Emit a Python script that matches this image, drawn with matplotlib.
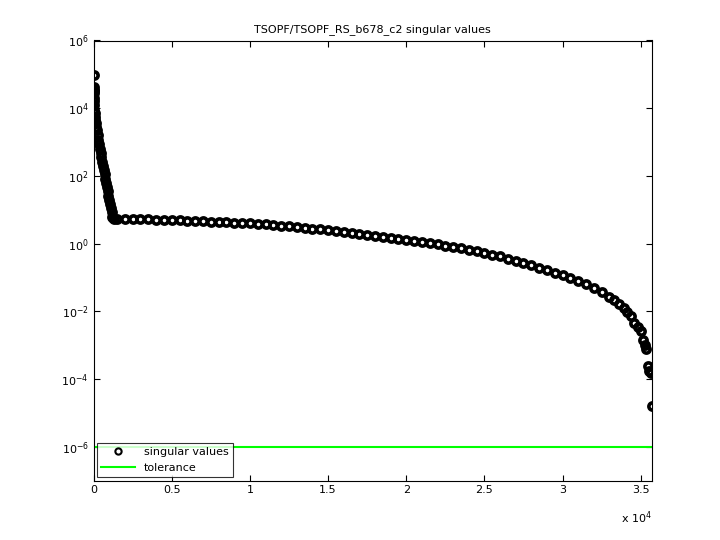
import matplotlib

matplotlib.use("Agg")
import matplotlib.pyplot as plt
import numpy as np

# singular value index and log10(sigma)
sv_index = [
    1, 2, 3, 4, 6, 10, 15, 25, 40, 60, 80, 100, 130, 160, 200, 250, 300, 350, 400, 450,
    500, 550, 600, 650, 700, 750, 800, 850, 900, 950, 1000, 1050, 1100, 1150, 1200, 1250,
    1300, 1500, 2000, 2500, 3000, 3500, 4000, 4500, 5000, 5500, 6000, 6500, 7000, 7500,
    8000, 8500, 9000, 9500, 10000, 10500, 11000, 11500, 12000, 12500, 13000, 13500,
    14000, 14500, 15000, 15500, 16000, 16500, 17000, 17500, 18000, 18500, 19000, 19500,
    20000, 20500, 21000, 21500, 22000, 22500, 23000, 23500, 24000, 24500, 25000, 25500,
    26000, 26500, 27000, 27500, 28000, 28500, 29000, 29500, 30000, 30500, 31000, 31500,
    32000, 32500, 33000, 33300, 33600, 33900, 34150, 34400, 34600, 34800, 35000, 35130,
    35250, 35350, 35450, 35550, 35640, 35696,
]
sv_log10 = [
    4.98, 4.62, 4.55, 4.5, 4.45, 4.3, 4.2, 4.1, 3.95, 3.85, 3.75, 3.65, 3.55, 3.45, 3.35, 3.2, 3.05, 2.93, 2.8, 2.67,
    2.55, 2.42, 2.3, 2.17, 2.05, 1.92, 1.8, 1.67, 1.55, 1.42, 1.3, 1.17, 1.05, 0.92, 0.8, 0.745,
    0.74, 0.735, 0.73, 0.725, 0.72, 0.715, 0.71, 0.705, 0.70, 0.69, 0.68, 0.67, 0.66, 0.65,
    0.64, 0.63, 0.62, 0.61, 0.60, 0.585, 0.57, 0.55, 0.53, 0.51, 0.49, 0.47,
    0.445, 0.42, 0.395, 0.37, 0.34, 0.31, 0.28, 0.25, 0.22, 0.19, 0.16, 0.13,
    0.10, 0.07, 0.04, 0.01, -0.02, -0.06, -0.10, -0.14, -0.18, -0.23, -0.28, -0.33,
    -0.38, -0.44, -0.50, -0.57, -0.64, -0.71, -0.78, -0.86, -0.94, -1.02, -1.10, -1.19,
    -1.30, -1.42, -1.57, -1.66, -1.77, -1.9, -2.03, -2.15, -2.33, -2.45, -2.57, -2.86,
    -3.0, -3.1, -3.62, -3.75, -3.82, -4.8,
]
tolerance = 1e-6
n_rows = 35696

fig = plt.figure(figsize=(7.2, 5.4), dpi=100)
ax = fig.add_axes([0.13, 0.11, 0.775, 0.815])

sv = 10.0 ** np.array(sv_log10)
ax.semilogy(sv_index, sv, "o", markersize=5.2, markerfacecolor="none",
            markeredgecolor="black", markeredgewidth=2.6, label="singular values")
ax.plot([0, n_rows], [tolerance, tolerance], color="#00ff00", linewidth=1.5, label="tolerance")

ax.set_xlim(0, n_rows)
ax.set_ylim(1e-7, 1e6)
ax.set_yticks([1e-6, 1e-4, 1e-2, 1e0, 1e2, 1e4, 1e6])
ax.minorticks_off()
ax.set_xticks([0, 5000, 10000, 15000, 20000, 25000, 30000, 35000])
ax.set_xticklabels(["0", "0.5", "1", "1.5", "2", "2.5", "3", "3.5"])
ax.tick_params(direction="in", labelsize=8, top=True, right=True, length=4)
ax.text(1.0, -0.065, r"x 10$^{4}$", transform=ax.transAxes, ha="right", va="top", fontsize=8)
ax.set_title("TSOPF/TSOPF_RS_b678_c2 singular values", fontsize=8)

leg = ax.legend(loc="lower left", fontsize=8, fancybox=False, edgecolor="black",
                borderaxespad=0.3, handlelength=3)
leg.get_frame().set_linewidth(0.8)
for h in leg.legend_handles[:1]:
    h.set_markersize(4.5)
    h.set_markeredgewidth(1.5)

fig.savefig("out.png", dpi=100)
